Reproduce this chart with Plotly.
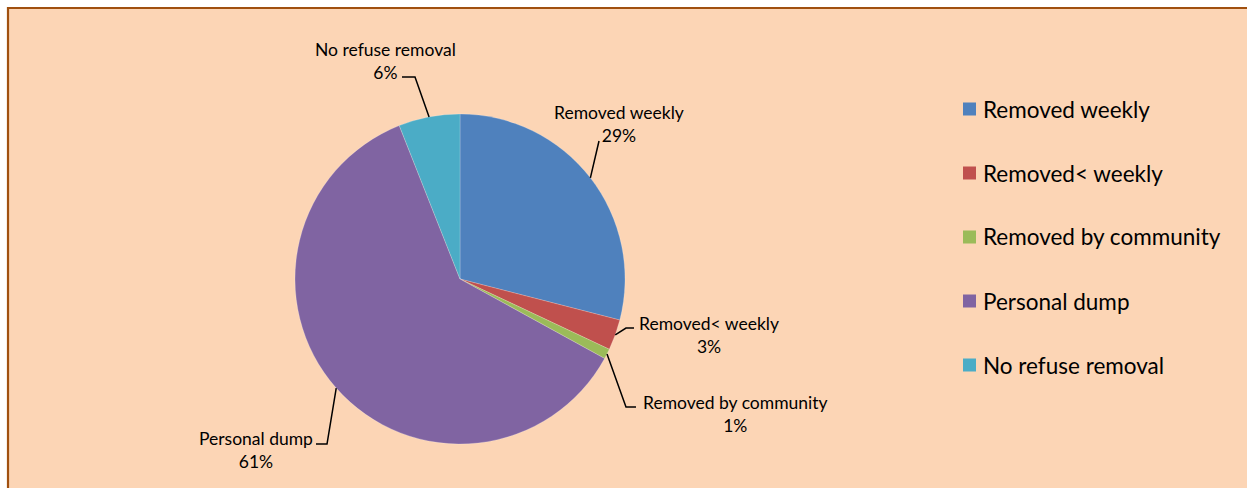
import math
import plotly.graph_objects as go

# Refuse removal shares (percent)
categories = ["Removed weekly", "Removed< weekly", "Removed by community",
              "Personal dump", "No refuse removal"]
shares = [29, 3, 1, 61, 6]
colors = ["#4F81BD", "#C0504D", "#9BBB59", "#8064A2", "#4BACC6"]

W, H = 1247, 488
FONT = "Lato"
CX, CY, R = 460, 279, 165          # pie centre and radius in pixels

# label text centre, elbow point and line end (pixels) for each slice
label_pos = [(619, 124), (709, 335), (735, 414), (256, 450), (385, 61)]
leader_pts = [
    [(599, 141)],
    [(626, 328), (634, 328)],
    [(626, 407), (636, 407)],
    [(327, 444), (316, 444)],
    [(415, 77), (402, 77)],
]

def px(x, y):
    return x / W, 1 - y / H

fig = go.Figure()
fig.add_trace(go.Pie(
    labels=categories, values=shares, sort=False, direction="clockwise",
    rotation=0, textinfo="none", hoverinfo="label+percent",
    marker=dict(colors=colors, line=dict(color="rgba(255,255,255,0.35)", width=0.6)),
    domain=dict(x=[(CX - R) / W, (CX + R) / W], y=[1 - (CY + R) / H, 1 - (CY - R) / H]),
    showlegend=False,
))

shapes = [dict(type="rect", xref="paper", yref="paper", layer="below",
               x0=8 / W, x1=1.02, y0=-0.02, y1=1 - 8 / H,
               fillcolor="#FCD5B5", line=dict(color="#A0500F", width=2.2))]
annotations = []

total = sum(shares)
cum = 0
for i, (name, v) in enumerate(zip(categories, shares)):
    mid = (cum + v / 2) / total * 2 * math.pi
    cum += v
    ax, ay = CX + R * math.sin(mid), CY - R * math.cos(mid)
    pts = [(ax, ay)] + leader_pts[i]
    path = "M " + " L ".join("%.5f %.5f" % px(x, y) for x, y in pts)
    shapes.append(dict(type="path", xref="paper", yref="paper", path=path,
                       line=dict(color="black", width=1.5)))
    lx, ly = px(*label_pos[i])
    annotations.append(dict(xref="paper", yref="paper", x=lx, y=ly,
                            xanchor="center", yanchor="middle",
                            text="%s<br>%d%%" % (name, round(v / total * 100)),
                            showarrow=False, align="center",
                            font=dict(family=FONT, size=17.5, color="black")))

# legend drawn as swatches with text
for i, (name, c) in enumerate(zip(categories, colors)):
    yc = 109 + 64 * i
    x0, y0 = px(963, yc - 6.5)
    x1, y1 = px(976, yc + 6.5)
    shapes.append(dict(type="rect", xref="paper", yref="paper",
                       x0=x0, x1=x1, y0=y1, y1=y0, fillcolor=c, line=dict(width=0)))
    tx, ty = px(981, yc)
    annotations.append(dict(xref="paper", yref="paper", x=tx, y=ty, text=name,
                            xanchor="left", yanchor="middle", showarrow=False,
                            font=dict(family=FONT, size=22.5, color="black")))

fig.update_layout(
    width=W, height=H, margin=dict(l=0, r=0, t=0, b=0),
    paper_bgcolor="white", plot_bgcolor="white",
    shapes=shapes, annotations=annotations, showlegend=False,
)
fig.write_html("out.html")
